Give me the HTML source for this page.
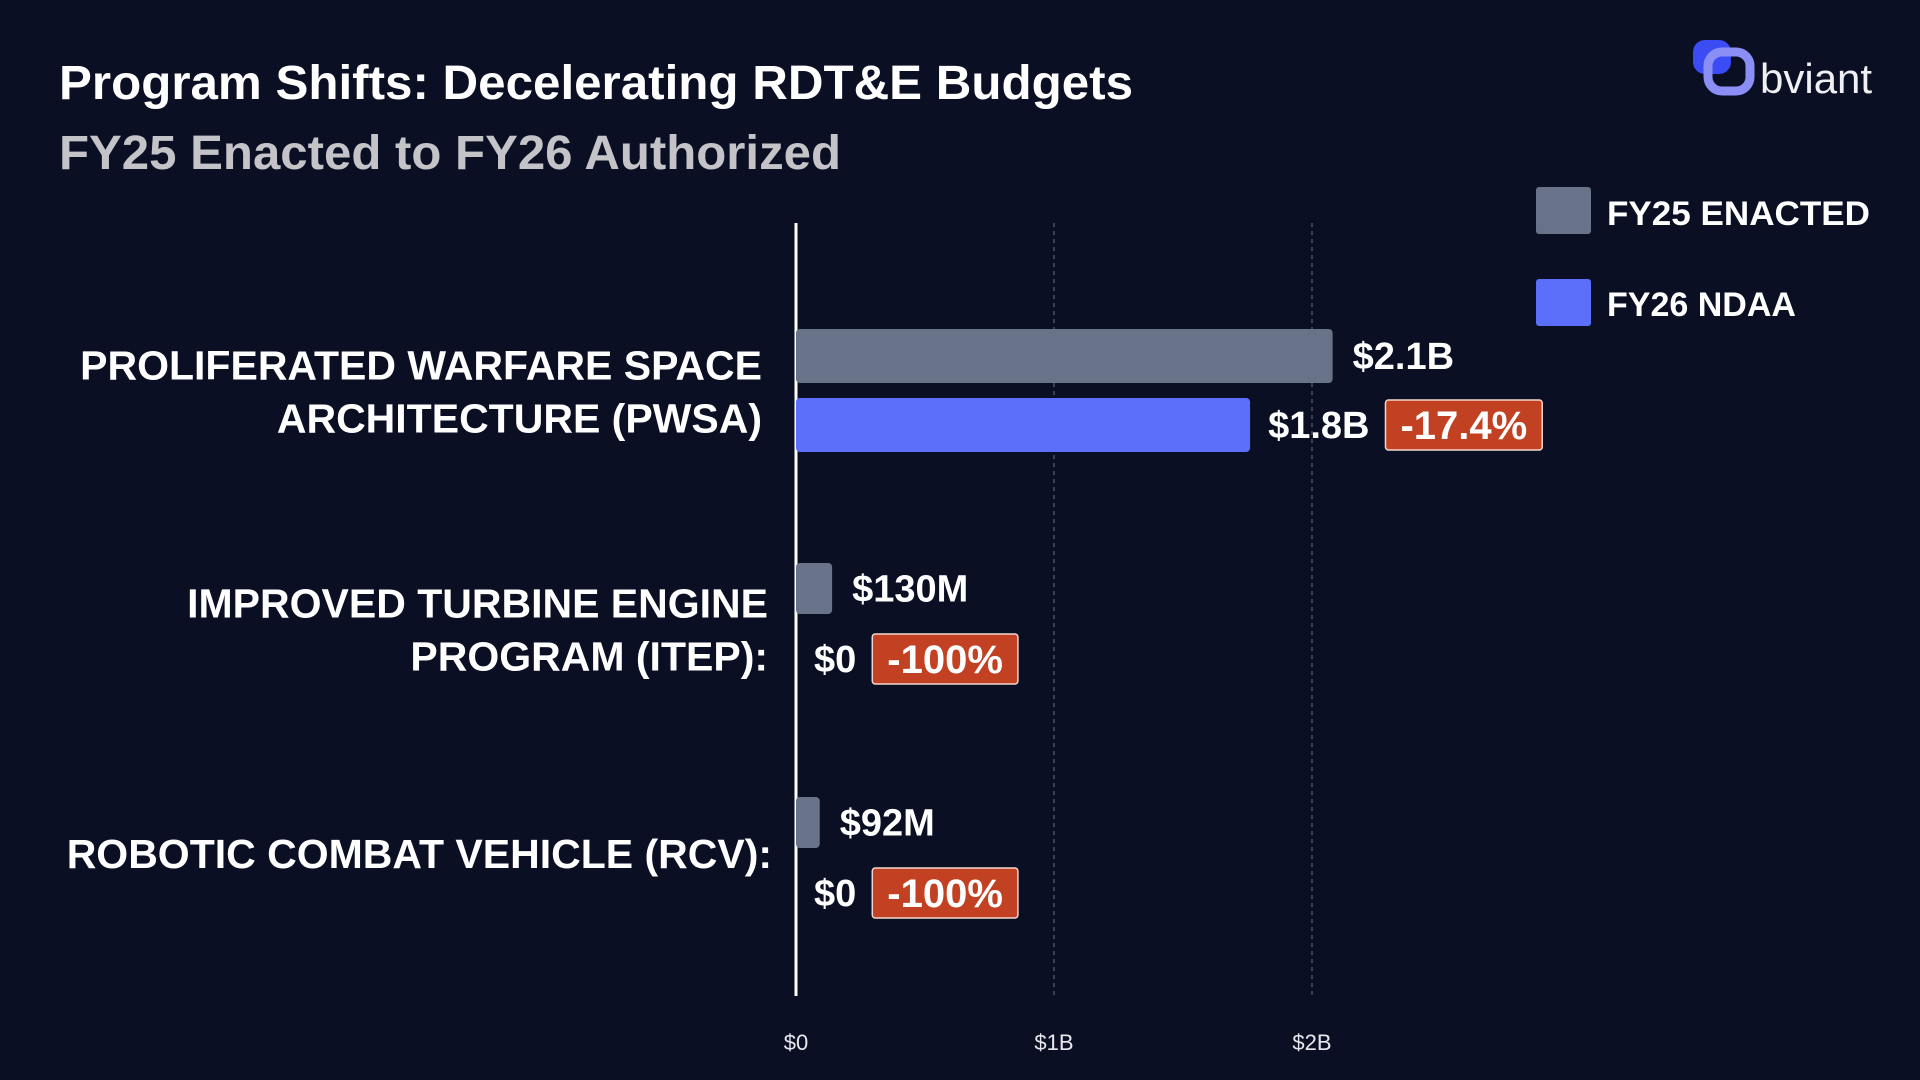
<!DOCTYPE html>
<html><head><meta charset="utf-8"><style>
html,body{margin:0;padding:0;background:#0b0f24;width:1920px;height:1080px;overflow:hidden}
svg{display:block;font-family:"Liberation Sans",sans-serif}
</style></head><body>
<svg id="chart" width="1920" height="1080" viewBox="0 0 1920 1080">
<rect width="1920" height="1080" fill="#0b0f24"/>
<text x="59" y="99" fill="#ffffff" font-size="48" font-weight="bold" textLength="1074" lengthAdjust="spacingAndGlyphs">Program Shifts: Decelerating RDT&amp;E Budgets</text>
<text x="59" y="169" fill="#c4c4c8" font-size="48" font-weight="bold" textLength="782" lengthAdjust="spacingAndGlyphs">FY25 Enacted to FY26 Authorized</text>
<g>
<rect x="1693" y="40" width="38" height="34" rx="12" fill="#3b4cf5"/>
<rect x="1708" y="52" width="42" height="39" rx="14" fill="none" stroke="#8b8ff5" stroke-width="9"/>
<text x="1760" y="93" fill="#f0f0f4" font-size="42">bviant</text>
</g>
<g>
<rect x="1536" y="187" width="55" height="47" rx="3" fill="#687389"/>
<text x="1607" y="225" fill="#fff" font-size="34" font-weight="bold" textLength="263" lengthAdjust="spacingAndGlyphs">FY25 ENACTED</text>
<rect x="1536" y="279" width="55" height="47" rx="3" fill="#5b6ffb"/>
<text x="1607" y="316" fill="#fff" font-size="34" font-weight="bold">FY26 NDAA</text>
</g>
<g id="grid"></g><g id="bars"></g><g id="labels"></g>
</svg>
<script>
const categories = [["PROLIFERATED WARFARE SPACE","ARCHITECTURE (PWSA)"],["IMPROVED TURBINE ENGINE","PROGRAM (ITEP):"],["ROBOTIC COMBAT VEHICLE (RCV):"]];
const fy25Values = [2.08, 0.14, 0.092];
const fy26Values = [1.76, 0, 0];
const fy25Labels = ["$2.1B","$130M","$92M"];
const fy26Labels = ["$1.8B","$0","$0"];
const changeLabels = ["-17.4%","-100%","-100%"];
const tickValues = [0, 1, 2];
const tickLabels = ["$0","$1B","$2B"];

const NS="http://www.w3.org/2000/svg";
const x0=796, pxPerB=258;
function xs(v){return x0+v*pxPerB;}
const bandStep=234, firstCenter=391;
function yc(i){return firstCenter+i*bandStep;}
function mk(tag,attrs,parent,txt){const e=document.createElementNS(NS,tag);for(const k in attrs)e.setAttribute(k,attrs[k]);if(txt!==undefined)e.textContent=txt;parent.appendChild(e);return e;}
const grid=document.getElementById('grid'),bars=document.getElementById('bars'),labels=document.getElementById('labels');
tickValues.forEach((t,i)=>{
  if(t>0){const g=mk('line',{x1:xs(t),x2:xs(t),y1:223,y2:996,stroke:'#4a5066','stroke-width':1.5,'stroke-dasharray':'4 4'},grid);
  
  }
  const tl=mk('text',{x:xs(t),y:1050,fill:'#e8e8ee','font-size':22,'text-anchor':'middle'},grid,tickLabels[i]);
  
  
});
const ax=mk('line',{x1:x0,x2:x0,y1:223,y2:996,stroke:'#ffffff','stroke-width':3},grid);


const labelOffsets=[0,4,-6];
categories.forEach((lines,i)=>{
  const c=yc(i);
  const h=i==0?54:51;
  const gy=c-62, by=c+7;
  const w25=Math.max(xs(fy25Values[i])-x0,0);
  const b1=mk('rect',{x:x0,y:gy,width:w25,height:h,rx:4,fill:'#687389'},bars);
  
  
  const w26=Math.max(xs(fy26Values[i])-x0,0);
  if(w26>0){const b2=mk('rect',{x:x0,y:by,width:w26,height:54,rx:4,fill:'#5b6ffb'},bars);
  
  }
  const l1=mk('text',{x:xs(fy25Values[i])+20,y:gy+h/2+13,fill:'#fff','font-size':38,'font-weight':'bold'},labels,fy25Labels[i]);
  
  
  const l2=mk('text',{x:xs(fy26Values[i])+18,y:by+27+13,fill:'#fff','font-size':38,'font-weight':'bold'},labels,fy26Labels[i]);
  
  
  const lw=l2.getComputedTextLength();
  const bx=xs(fy26Values[i])+18+lw+16;
  const bt=mk('text',{x:0,y:by+41,fill:'#fff','font-size':40,'font-weight':'bold','text-anchor':'middle'},labels,changeLabels[i]);
  const tw=bt.getComputedTextLength()+30;
  bt.setAttribute('x',bx+tw/2);
  const bg=mk('rect',{x:bx,y:by+2,width:tw,height:50,rx:3,fill:'#c24122',stroke:'#f3d7cf','stroke-width':1.5},labels);
  labels.insertBefore(bg,bt);
  
  
  
  
  const lh=53;
  const startY=c-(lines.length-1)*lh/2+15+labelOffsets[i];
  lines.forEach((ln,j)=>{
    const t=mk('text',{x:i==1?768:(i==2?772:762),y:startY+j*lh,fill:'#fff','font-size':41,'font-weight':'bold','text-anchor':'end'},labels,ln);
    
    
  });
});
</script>
</body></html>
